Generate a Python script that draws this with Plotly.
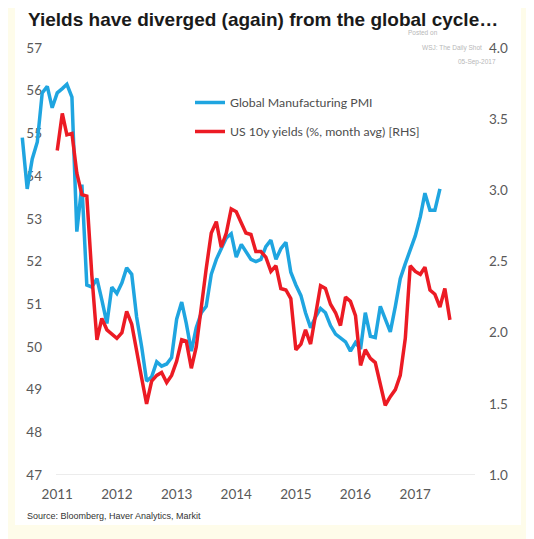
import pandas as pd
import plotly.graph_objects as go

# Global manufacturing PMI, monthly from Jun 2010
pmi = [54.9, 53.7, 54.4, 54.8, 55.95, 56.1, 55.6,
       55.95, 56.05, 56.15, 55.85, 52.7, 53.8, 51.45, 51.4, 51.6, 51.1, 50.55, 51.4,
       51.25, 51.5, 51.85, 51.7, 50.7, 50.0, 49.2, 49.3, 49.65, 49.55, 49.6, 49.75,
       50.65, 51.05, 50.55, 49.9, 50.45, 50.8, 50.95, 51.7, 52.05, 52.3, 52.55, 52.65,
       52.1, 52.4, 52.25, 52.05, 52.0, 52.05, 52.35, 52.5, 52.05, 52.3, 52.45, 51.75,
       51.45, 51.2, 50.8, 50.45, 50.7, 50.9, 50.8, 50.5, 50.3, 50.22, 50.12, 49.9,
       50.1, 49.95, 50.8, 50.25, 50.22, 50.95, 50.65, 50.35, 50.95, 51.6, 51.95, 52.25,
       52.6, 53.05, 53.6, 53.2, 53.2, 53.7]
pmi_start = "2010-06-01"

# US 10y yields, month average (%), monthly from Jan 2011
yields = [3.28, 3.54, 3.39, 3.40, 3.12, 2.97, 2.96, 2.40, 1.95, 2.10, 2.02, 1.99,
          1.96, 2.00, 2.15, 2.06, 1.86, 1.68, 1.50, 1.66, 1.70, 1.72, 1.65, 1.70,
          1.80, 1.95, 1.94, 1.75, 1.90, 2.20, 2.45, 2.70, 2.78, 2.60, 2.70, 2.87,
          2.85, 2.77, 2.70, 2.69, 2.57, 2.57, 2.53, 2.43, 2.47, 2.31, 2.30, 2.24,
          1.88, 1.92, 2.02, 1.92, 2.12, 2.33, 2.31, 2.20, 2.14, 2.05, 2.25, 2.22,
          2.12, 1.77, 1.88, 1.82, 1.79, 1.64, 1.49, 1.55, 1.60, 1.70, 1.96, 2.47,
          2.43, 2.41, 2.46, 2.30, 2.27, 2.18, 2.31, 2.09]
yields_start = "2011-01-01"

years = [2011, 2012, 2013, 2014, 2015, 2016, 2017]
left_ticks = list(range(47, 58))
right_ticks = [1.0, 1.5, 2.0, 2.5, 3.0, 3.5, 4.0]

pmi_dates = pd.date_range(pmi_start, periods=len(pmi), freq="MS")
yield_dates = pd.date_range(yields_start, periods=len(yields), freq="MS")

# page has an 8px body margin, so the figure is drawn smaller and offset
OFF = 8
W, H = 534 - OFF, 539 - OFF
L, R, T, B = 20 - OFF, 534 - 478, 48 - OFF, 539 - 475
pw, ph = W - L - R, H - T - B


def px(x):
    return (x - OFF - L) / pw


def py(y):
    return (H - B - (y - OFF)) / ph


fig = go.Figure()
fig.add_trace(go.Scatter(x=pmi_dates, y=pmi, mode="lines", name="Global Manufacturing PMI",
                         line=dict(color="#1FA5E0", width=3.5), legendgroup="a"))
fig.add_trace(go.Scatter(x=yield_dates, y=yields, mode="lines",
                         name="US 10y yields (%, month avg) [RHS]",
                         line=dict(color="#EC1B24", width=3.5), yaxis="y2", legendgroup="b"))

tickfont = dict(family="Lato", size=13.5, color="#595959")

fig.update_layout(
    width=W, height=H,
    margin=dict(l=L, r=R, t=T, b=B, autoexpand=False),
    paper_bgcolor="#FEFCEA",
    plot_bgcolor="rgba(0,0,0,0)",
    showlegend=True,
    legend=dict(x=px(190), y=py(88), xanchor="left", yanchor="top",
                font=dict(family="Lato", size=12.3, color="#4D4D4D"),
                bgcolor="rgba(0,0,0,0)", tracegroupgap=10, traceorder="grouped"),
    xaxis=dict(type="date", range=["2010-05-18", "2018-01-20"],
               tickvals=[f"{y}-01-01" for y in years], ticktext=[str(y) for y in years],
               showgrid=False, zeroline=False, showline=False, ticks="",
               tickfont=tickfont, ticklabelstandoff=9),
    yaxis=dict(range=[47, 57], tickvals=left_ticks, showgrid=False, zeroline=False,
               showline=False, ticks="", anchor="free", position=px(44),
               ticklabelstandoff=2, layer="below traces", tickfont=tickfont),
    yaxis2=dict(range=[1, 4], overlaying="y", side="right", tickvals=right_ticks,
                ticktext=[f"{v:.1f}" for v in right_ticks], showgrid=False,
                zeroline=False, showline=False, ticks="", ticklabelstandoff=10,
                tickfont=tickfont),
    shapes=[
        dict(type="rect", xref="paper", yref="paper", x0=px(15), x1=px(521),
             y0=py(525), y1=py(6), fillcolor="white", line_width=0, layer="below"),
        dict(type="line", xref="paper", yref="y", x0=px(56), x1=px(475), y0=47, y1=47,
             line=dict(color="#D9D9D9", width=1), layer="below"),
    ],
    annotations=[
        dict(text="<b>Yields have diverged (again) from the global cycle…</b>",
             xref="paper", yref="paper", x=px(26), y=py(20), xanchor="left",
             yanchor="middle", showarrow=False,
             font=dict(family="Liberation Sans", size=19, color="#1A1A1A")),
        dict(text="Source: Bloomberg, Haver Analytics, Markit", xref="paper", yref="paper",
             x=px(25), y=py(516), xanchor="left", yanchor="middle", showarrow=False,
             font=dict(family="Liberation Sans", size=9, color="#333333")),
        dict(text="Posted on", xref="paper", yref="paper", x=px(440), y=py(33),
             xanchor="right", yanchor="middle", showarrow=False,
             font=dict(family="Liberation Sans", size=6.5, color="#B8B8B8")),
        dict(text="WSJ: The Daily Shot", xref="paper", yref="paper", x=px(420), y=py(48),
             xanchor="left", yanchor="middle", showarrow=False,
             font=dict(family="Liberation Sans", size=6.5, color="#B8B8B8")),
        dict(text="05-Sep-2017", xref="paper", yref="paper", x=px(498), y=py(62),
             xanchor="right", yanchor="middle", showarrow=False,
             font=dict(family="Liberation Sans", size=6.5, color="#B8B8B8")),
    ],
)

fig.write_html("out.html")
